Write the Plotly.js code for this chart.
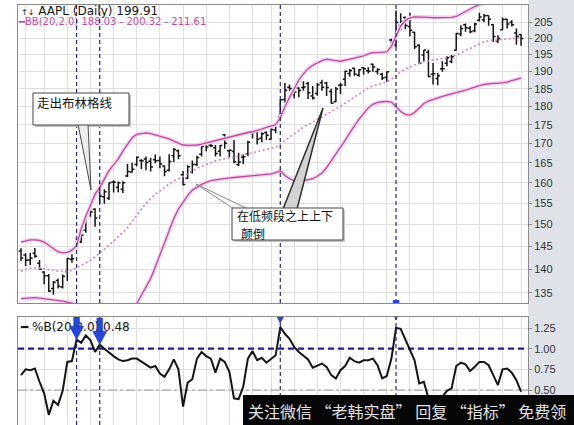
<!DOCTYPE html>
<html>
<head>
<meta charset="utf-8">
<script src="https://cdn.plot.ly/plotly-3.0.1.min.js"></script>
<style>
  html, body { margin: 0; padding: 0; background: #ffffff; }
  #chart { width: 574px; height: 425px; }
</style>
</head>
<body>
<div id="chart"></div>
<script>
// AAPL daily bars, 26 Jun - 30 Nov 2009
const days = [
  '2009-06-26','2009-06-29','2009-06-30','2009-07-01','2009-07-02','2009-07-06','2009-07-07','2009-07-08','2009-07-09','2009-07-10',
  '2009-07-13','2009-07-14','2009-07-15','2009-07-16','2009-07-17','2009-07-20','2009-07-21','2009-07-22','2009-07-23','2009-07-24',
  '2009-07-27','2009-07-28','2009-07-29','2009-07-30','2009-07-31','2009-08-03','2009-08-04','2009-08-05','2009-08-06','2009-08-07',
  '2009-08-10','2009-08-11','2009-08-12','2009-08-13','2009-08-14','2009-08-17','2009-08-18','2009-08-19','2009-08-20','2009-08-21',
  '2009-08-24','2009-08-25','2009-08-26','2009-08-27','2009-08-28','2009-08-31','2009-09-01','2009-09-02','2009-09-03','2009-09-04',
  '2009-09-08','2009-09-09','2009-09-10','2009-09-11','2009-09-14','2009-09-15','2009-09-16','2009-09-17','2009-09-18','2009-09-21',
  '2009-09-22','2009-09-23','2009-09-24','2009-09-25','2009-09-28','2009-09-29','2009-09-30','2009-10-01','2009-10-02','2009-10-05',
  '2009-10-06','2009-10-07','2009-10-08','2009-10-09','2009-10-12','2009-10-13','2009-10-14','2009-10-15','2009-10-16','2009-10-19',
  '2009-10-20','2009-10-21','2009-10-22','2009-10-23','2009-10-26','2009-10-27','2009-10-28','2009-10-29','2009-10-30','2009-11-02',
  '2009-11-03','2009-11-04','2009-11-05','2009-11-06','2009-11-09','2009-11-10','2009-11-11','2009-11-12','2009-11-13','2009-11-16',
  '2009-11-17','2009-11-18','2009-11-19','2009-11-20','2009-11-23','2009-11-24','2009-11-25','2009-11-27','2009-11-30'
];

const open = [
  144.0,143.1,142.0,143.5,141.3,139.4,138.6,135.9,137.6,136.2,
  139.5,142.2,144.8,146.0,148.7,153.3,153.6,157.8,156.6,156.2,
  160.2,158.9,158.4,161.7,162.7,164.6,165.6,166.0,165.4,165.8,
  165.6,164.2,163.1,166.8,168.1,162.0,161.1,162.7,164.6,167.2,
  170.1,169.5,168.9,168.0,172.3,168.1,167.9,164.6,166.4,167.3,
  172.8,173.1,171.4,172.9,171.1,173.6,177.1,181.9,185.4,183.3,
  185.2,185.3,186.5,182.9,183.6,186.7,186.6,184.2,181.3,186.0,
  187.7,189.4,190.9,188.9,191.1,190.2,192.1,190.0,189.2,188.3,
  199.4,197.9,204.0,206.5,203.6,201.8,197.8,194.9,195.7,189.2,
  187.9,190.8,192.4,192.9,196.3,201.3,204.2,203.1,202.3,205.6,
  205.8,207.1,204.2,199.1,202.6,205.9,205.0,201.6,201.1
];
const high = [
  144.6,143.5,143.6,144.7,142.0,139.6,139.0,137.5,138.0,138.9,
  142.5,143.3,147.0,148.8,152.0,155.0,153.8,160.0,158.4,160.0,
  160.6,160.3,160.4,164.7,165.0,166.6,165.9,166.6,166.3,167.1,
  166.6,164.3,167.2,168.8,168.4,162.9,164.4,165.6,166.8,169.4,
  170.7,170.9,169.6,169.6,172.5,168.4,170.9,167.6,167.1,170.7,
  173.3,173.8,173.0,173.2,174.0,175.7,182.0,186.7,186.2,184.7,
  185.4,187.1,187.0,185.8,186.6,187.6,187.0,185.0,185.5,186.7,
  190.2,190.7,191.1,190.7,191.2,191.2,192.3,190.9,189.6,190.0,
  199.8,208.7,207.8,206.8,208.0,202.0,198.1,196.4,196.4,192.5,
  189.5,193.0,194.5,194.9,201.6,204.0,204.6,203.8,204.8,208.0,
  207.6,207.1,204.3,200.9,206.5,205.9,205.6,203.0,201.3
];
const low = [
  141.8,140.7,140.9,142.5,139.9,136.8,135.2,134.6,135.9,135.9,
  137.5,141.4,144.6,145.8,148.1,151.8,149.5,155.0,154.9,155.8,
  157.6,157.7,157.5,161.4,162.5,164.1,163.4,163.1,162.8,164.9,
  163.6,161.6,162.8,165.2,165.9,159.3,161.0,162.3,164.1,166.6,
  168.0,169.0,166.6,166.6,168.6,166.4,164.9,164.2,164.7,166.7,
  171.3,169.7,170.3,170.9,171.0,172.7,176.6,181.1,184.4,182.3,
  182.6,184.4,182.1,181.9,183.0,184.4,182.9,180.8,181.2,183.5,
  185.8,188.4,188.7,188.4,189.0,189.4,189.9,189.1,187.5,187.0,
  196.8,197.2,202.5,202.8,200.6,196.7,192.1,193.0,188.3,186.2,
  186.0,189.9,191.5,192.4,196.2,200.6,202.0,201.5,201.8,205.2,
  205.0,203.9,198.8,198.5,202.5,203.0,203.6,198.0,197.7
];
const close = [
  142.44,141.97,142.43,142.83,140.02,138.61,135.40,137.22,136.36,138.52,
  142.34,142.27,146.88,147.52,151.75,152.91,151.51,156.74,157.82,159.99,
  160.10,160.00,160.03,162.79,163.39,166.43,165.55,165.11,163.91,165.51,
  164.72,162.83,165.31,168.42,166.78,159.59,164.00,164.60,166.33,169.22,
  169.06,169.40,167.41,169.45,170.05,168.21,165.30,165.18,166.55,170.31,
  172.93,171.14,172.56,172.16,173.72,175.16,181.87,184.55,185.02,184.02,
  184.48,185.50,183.82,182.37,186.15,185.38,185.35,180.86,184.90,186.02,
  190.01,190.25,189.27,190.47,190.81,190.02,191.29,190.56,188.05,189.86,
  198.76,204.92,205.20,203.94,202.48,197.37,192.40,196.35,188.50,189.31,
  188.75,190.81,194.03,194.34,201.46,202.98,203.25,201.99,204.45,206.63,
  207.00,205.96,200.51,199.92,205.88,204.44,204.19,200.59,199.91
];

// Bollinger Bands (20, 2.0)
const bbUpper = [
  146.0,146.3,146.5,146.5,146.4,146.0,145.2,144.4,143.8,143.6,
  143.7,144.2,145.2,149.0,152.0,154.5,157.2,158.8,161.0,163.0,
  164.5,166.0,168.0,169.8,171.5,172.4,172.7,172.8,172.6,172.3,
  172.0,171.6,171.2,170.6,170.0,169.6,169.5,169.5,169.6,169.8,
  170.1,170.5,170.9,171.2,171.5,171.8,172.1,172.4,172.6,172.9,
  173.1,173.4,173.8,174.3,174.6,175.0,176.8,180.0,182.5,185.0,
  187.5,189.3,190.8,191.8,192.6,193.2,193.6,193.5,193.2,193.0,
  193.2,193.6,193.9,194.2,194.6,195.2,195.6,195.6,195.6,195.8,
  197.5,200.8,203.8,205.5,206.4,206.7,206.7,206.6,206.5,206.4,
  206.4,206.4,206.4,206.5,206.8,207.6,208.5,209.3,210.0,210.6,
  211.0,211.3,211.4,211.3,211.4,211.5,211.5,211.6,211.61
];
const bbMiddle = [
  139.6,139.9,140.2,140.3,140.3,140.1,140.0,139.8,139.6,139.5,
  139.5,139.8,140.3,140.8,141.4,141.9,142.7,143.5,144.4,145.3,
  146.2,147.1,148.2,149.3,150.8,152.2,153.6,155.0,156.2,157.2,
  158.0,158.9,159.8,160.5,160.9,161.6,162.2,162.9,163.6,164.1,
  164.6,165.0,165.5,165.8,166.1,166.3,166.5,166.7,167.0,167.3,
  167.6,167.8,168.1,168.5,168.8,169.0,169.9,170.8,171.7,172.5,
  173.4,174.3,175.0,175.7,176.4,177.1,177.8,178.4,179.2,180.0,
  180.9,181.8,182.7,183.6,184.4,185.2,185.8,186.2,186.6,186.9,
  187.7,188.7,190.0,190.6,191.4,191.9,192.3,192.9,193.1,193.3,
  193.5,193.8,194.2,194.4,194.9,195.5,196.2,196.8,197.5,198.3,
  198.9,199.2,199.3,199.3,199.6,199.8,199.8,199.9,200.32
];
const bbLower = [
  133.8,133.9,134.0,134.0,133.9,133.8,133.6,133.5,133.4,133.3,
  133.1,132.9,132.4,131.6,130.6,129.9,129.2,128.9,128.8,128.9,
  129.3,129.9,130.6,131.3,132.0,132.8,134.5,136.2,138.0,140.5,
  143.2,146.0,148.8,151.4,153.6,155.3,156.9,158.2,159.0,159.6,
  160.1,160.5,160.7,160.9,161.1,161.2,161.3,161.4,161.5,161.7,
  161.8,161.8,161.9,162.0,162.2,162.5,163.0,161.8,161.0,160.5,
  160.4,160.5,160.7,161.0,161.6,162.4,163.8,165.5,167.2,168.8,
  170.8,172.8,174.8,176.5,178.0,179.6,180.6,181.1,181.3,181.4,
  181.2,180.0,178.6,177.8,177.6,178.3,179.5,180.8,181.5,182.0,
  182.4,182.8,183.2,183.5,183.8,184.2,184.6,185.0,185.5,185.9,
  186.2,186.4,186.5,186.5,186.6,186.9,187.3,187.7,188.03
];

// %B (20, 2.0)
const pctB = [
  0.68,0.75,0.74,0.76,0.60,0.46,0.20,0.37,0.32,0.49,
  0.84,0.85,1.11,1.07,1.16,1.10,0.96,1.05,1.00,0.95,
  0.91,0.87,0.85,0.86,0.88,0.88,0.84,0.80,0.77,0.79,
  0.70,0.66,0.75,0.87,0.75,0.30,0.59,0.63,0.88,0.96,
  0.91,0.88,0.71,0.88,0.84,0.72,0.40,0.39,0.54,0.88,
  0.97,0.86,0.89,0.83,0.88,0.92,1.26,1.18,1.12,1.02,
  0.96,0.92,0.87,0.77,0.80,0.82,0.78,0.68,0.64,0.74,
  0.79,0.89,0.85,0.83,0.86,0.86,0.88,0.80,0.64,0.67,
  0.88,1.25,1.24,1.12,0.99,0.86,0.58,0.60,0.40,0.30,
  0.33,0.42,0.49,0.52,0.79,0.83,0.81,0.73,0.78,0.84,
  0.84,0.80,0.68,0.56,0.75,0.76,0.71,0.62,0.48
];

// sessions flagged on both panels
const signalDays = [12, 17, 56, 81];

const priceTicks = [135,140,145,150,155,160,165,170,175,180,185,190,195,200,205];
const pctTicks = [0.50, 0.75, 1.00, 1.25];
const pctLevels = { overbought: 1.0, mid: 0.5 };

const headerText = 'AAPL (Daily) 199.91';
const bbLabel = 'BB(20,2.0) 188.03 - 200.32 - 211.61';
const pctLabel = '%B(20,2.0) 0.48';
const note1 = '走出布林格线';
const note2 = ['在低频段之上上下', '颠倒'];
const banner = '关注微信 “老韩实盘” 回复 “指标” 免费领';

// ---------- drawing ----------
const W = 574, H = 425, ML = 18, MR = 46, MT = 5, MB = 0;
const PW = W - ML - MR, PH = H - MT - MB;
const PX = v => (v - ML) / PW;          // pixel -> paper x
const PY = v => (H - MB - v) / PH;      // pixel -> paper y
const X_RANGE = [-0.648, 109.5];

const idx = days.map((d, i) => i);
const weekStarts = idx.filter(i => i > 0 &&
  new Date(days[i]).getUTCDay() < new Date(days[i - 1]).getUTCDay());

const bandCore = '#bb4aa3';
const bandHalo = '#f4d2ee';

const traces = [
  { type: 'scatter', mode: 'lines', x: idx, y: bbUpper, line: { color: bandHalo, width: 4 }, hoverinfo: 'skip' },
  { type: 'scatter', mode: 'lines', x: idx, y: bbLower, line: { color: bandHalo, width: 4 }, hoverinfo: 'skip' },
  { type: 'scatter', mode: 'lines', x: idx, y: bbUpper, line: { color: bandCore, width: 1.3 }, hoverinfo: 'skip' },
  { type: 'scatter', mode: 'lines', x: idx, y: bbLower, line: { color: bandCore, width: 1.3 }, hoverinfo: 'skip' },
  { type: 'scatter', mode: 'lines', x: idx, y: bbMiddle, line: { color: '#d47fc6', width: 1.6, dash: '2px,2.5px' }, hoverinfo: 'skip' },
  {
    type: 'ohlc', x: idx, open: open, high: high, low: low, close: close, text: days,
    increasing: { line: { color: '#141414', width: 1.5 } },
    decreasing: { line: { color: '#141414', width: 1.5 } },
    tickwidth: 0.5, hoverinfo: 'none'
  },
  {
    type: 'scatter', mode: 'text', x: [0], y: [208.3], marker: { size: 1 },
    text: ['<span style="font-size:8px">↑↓</span> ' + headerText], textposition: 'middle right',
    textfont: { family: 'DejaVu Sans', size: 12, color: '#151515' }, cliponaxis: false, hoverinfo: 'skip'
  },
  {
    type: 'scatter', mode: 'text', x: [-0.45], y: [204.8], marker: { size: 1 },
    text: ['<b>━</b>' + bbLabel], textposition: 'middle right',
    textfont: { family: 'DejaVu Sans', size: 10, color: '#c848a8' }, cliponaxis: false, hoverinfo: 'skip'
  },
  // %B reference levels
  {
    type: 'scatter', mode: 'lines', x: X_RANGE, y: [pctLevels.overbought, pctLevels.overbought], xaxis: 'x2', yaxis: 'y2',
    line: { color: '#22228a', width: 2.2, dash: '6px,4px' }, hoverinfo: 'skip'
  },
  {
    type: 'scatter', mode: 'lines', x: X_RANGE, y: [pctLevels.mid, pctLevels.mid], xaxis: 'x2', yaxis: 'y2',
    line: { color: '#9a9a9a', width: 1, dash: 'dashdot' }, hoverinfo: 'skip'
  },
  {
    type: 'scatter', mode: 'lines', x: idx, y: pctB, xaxis: 'x2', yaxis: 'y2',
    line: { color: '#151515', width: 2 }, hoverinfo: 'skip'
  },
  {
    type: 'scatter', mode: 'text', x: [0], y: [1.25], xaxis: 'x2', yaxis: 'y2', marker: { size: 1 },
    text: ['━ ' + pctLabel], textposition: 'middle right',
    textfont: { family: 'DejaVu Sans', size: 12, color: '#151515' }, cliponaxis: false, hoverinfo: 'skip'
  }
];

const gridCol = '#dedede', frameCol = '#8a8a8a';
const xBase = {
  range: X_RANGE, tickmode: 'array', tickvals: weekStarts, showticklabels: false, ticks: '',
  showgrid: true, gridcolor: gridCol, zeroline: false, showline: true, linecolor: frameCol, mirror: true,
  fixedrange: true
};
const yBase = {
  side: 'right', ticks: 'outside', ticklen: 3, tickcolor: '#8a8a8a', showgrid: true, gridcolor: gridCol,
  zeroline: false, showline: true, linecolor: frameCol, mirror: true, fixedrange: true,
  tickfont: { family: 'Liberation Sans, Arial, sans-serif', size: 11, color: '#333' }
};

const shapes = [];
// grey strip behind the value scale
shapes.push({ type: 'rect', xref: 'paper', yref: 'paper', x0: 1, x1: PX(W), y0: PY(H), y1: PY(0),
  fillcolor: '#dfe2e8', line: { width: 0 }, layer: 'below' });

// signal verticals across both panels
signalDays.forEach(s => {
  shapes.push({ type: 'line', xref: 'x', yref: 'paper', x0: s, x1: s, y0: PY(303), y1: 1,
    line: { color: '#26267c', width: 1.2, dash: '4px,3px' }, layer: 'above' });
  shapes.push({ type: 'line', xref: 'x2', yref: 'paper', x0: s, x1: s, y0: 0, y1: PY(317),
    line: { color: '#26267c', width: 1.2, dash: '4px,3px' }, layer: 'above' });
});

// blue signal arrows above the %B peaks
const arrowLift = [0, 0, 0.05, 0.10];
signalDays.forEach((s, k) => {
  const tip = pctB[s] + arrowLift[k];
  shapes.push({ type: 'rect', xref: 'x2', yref: 'y2', x0: s - 0.6, x1: s + 0.6, y0: tip + 0.15, y1: tip + 0.32,
    fillcolor: '#2447e0', line: { color: '#1a2f9e', width: 0.6 }, layer: 'above' });
  shapes.push({ type: 'path', xref: 'x2', yref: 'y2',
    path: `M ${s - 1.5} ${tip + 0.16} L ${s + 1.5} ${tip + 0.16} L ${s} ${tip} Z`,
    fillcolor: '#2447e0', line: { color: '#1a2f9e', width: 0.6 }, layer: 'above' });
});
shapes.push({ type: 'rect', xref: 'x', yref: 'paper', x0: signalDays[3] - 0.7, x1: signalDays[3] + 0.7, y0: PY(303), y1: PY(300),
  fillcolor: '#2447e0', line: { width: 0 }, layer: 'above' });

// callout boxes
function tri(a, b, c) {
  return `M ${PX(a[0])} ${PY(a[1])} L ${PX(b[0])} ${PY(b[1])} L ${PX(c[0])} ${PY(c[1])} Z`;
}
function box(x0, y0, x1, y1, fill, lineCol) {
  return { type: 'rect', xref: 'paper', yref: 'paper', x0: PX(x0), x1: PX(x1), y0: PY(y1), y1: PY(y0),
    fillcolor: fill, line: { color: lineCol || fill, width: lineCol ? 1 : 0 }, layer: 'above' };
}
shapes.push(box(35, 95, 131, 127, '#c4c4c4', null));
shapes.push({ type: 'path', xref: 'paper', yref: 'paper', path: tri([78, 124], [88, 124], [91, 190]),
  fillcolor: '#ededed', line: { color: '#4a4a4a', width: 1 }, layer: 'above' });
shapes.push(box(33, 93, 129, 125, '#ffffff', '#444444'));

shapes.push(box(234, 210, 345, 242, '#c4c4c4', null));
shapes.push({ type: 'path', xref: 'paper', yref: 'paper', path: tri([234, 209], [248, 209], [196, 184]),
  fillcolor: '#f4f4f4', line: { color: '#8c8c8c', width: 1 }, layer: 'above' });
shapes.push({ type: 'path', xref: 'paper', yref: 'paper', path: tri([283, 209], [297, 209], [323, 108]),
  fillcolor: '#d2d2d2', line: { color: '#2e2e2e', width: 1.5 }, layer: 'above' });
shapes.push(box(232, 208, 343, 240, '#ffffff', '#444444'));

// banner strip along the bottom
shapes.push({ type: 'rect', xref: 'paper', yref: 'paper', x0: PX(243), x1: PX(W), y0: PY(H), y1: PY(395),
  fillcolor: '#070707', line: { width: 0 }, layer: 'above' });

const cjk = 'Noto Sans CJK SC, sans-serif';
const annotations = [
  { xref: 'paper', yref: 'paper', x: PX(35), y: PY(103), xanchor: 'left', yanchor: 'middle', showarrow: false,
    text: note1, font: { family: cjk, size: 12.5, color: '#111' } },
  { xref: 'paper', yref: 'paper', x: PX(235), y: PY(215), xanchor: 'left', yanchor: 'middle', showarrow: false,
    text: note2[0], font: { family: cjk, size: 12, color: '#111' } },
  { xref: 'paper', yref: 'paper', x: PX(239), y: PY(233), xanchor: 'left', yanchor: 'middle', showarrow: false,
    text: note2[1], font: { family: cjk, size: 12, color: '#111' } },
  { xref: 'paper', yref: 'paper', x: PX(246), y: PY(411), xanchor: 'left', yanchor: 'middle', showarrow: false,
    text: banner, font: { family: cjk, size: 16, color: '#e2e2e2' } }
];

const layout = {
  width: W, height: H,
  margin: { l: ML, r: MR, t: MT, b: MB, pad: 0 },
  paper_bgcolor: '#ffffff', plot_bgcolor: '#ffffff',
  showlegend: false, dragmode: false,
  font: { family: 'Liberation Sans, Arial, sans-serif', size: 11, color: '#333' },
  xaxis: Object.assign({}, xBase, { domain: [0, 1], anchor: 'y', rangeslider: { visible: false } }),
  xaxis2: Object.assign({}, xBase, { domain: [0, 1], anchor: 'y2' }),
  yaxis: Object.assign({}, yBase, {
    domain: [PY(303), 1], anchor: 'x', type: 'log',
    range: [Math.log10(132.9), Math.log10(210.5)],
    tickmode: 'array', tickvals: priceTicks, ticktext: priceTicks.map(String)
  }),
  yaxis2: Object.assign({}, yBase, {
    domain: [0, PY(317)], anchor: 'x2', range: [0.077, 1.383],
    tickmode: 'array', tickvals: pctTicks, ticktext: pctTicks.map(v => v.toFixed(2))
  }),
  shapes: shapes,
  annotations: annotations
};

Plotly.newPlot('chart', traces, layout, { staticPlot: true, displayModeBar: false });
</script>
</body>
</html>
